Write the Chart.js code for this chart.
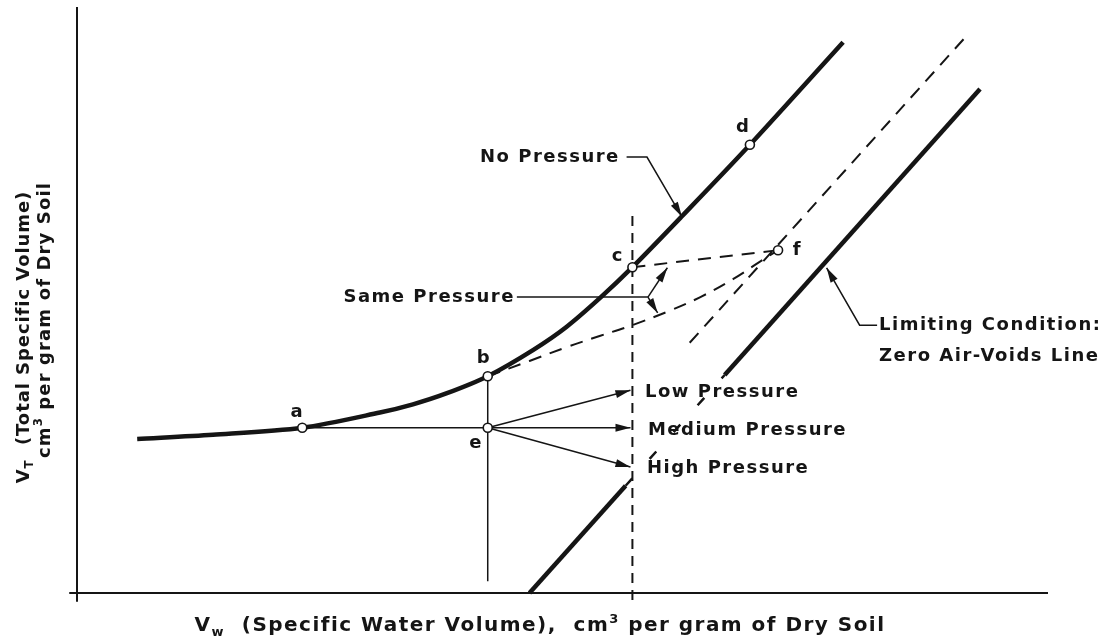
<!DOCTYPE html>
<html><head><meta charset="utf-8">
<script src="https://cdn.jsdelivr.net/npm/chart.js@4.4.1/dist/chart.umd.min.js"></script>
<style>html,body{margin:0;padding:0;background:#fff;}canvas{display:block;}</style>
</head><body>
<canvas id="c" width="1104" height="642"></canvas>
<script>
// ---- data (schematic units, no ticks in the original) ----
const noPressureX = [6.2, 14.0, 23.2, 31.2, 34.6, 38.1, 42.3, 47.0, 50.4, 53.9, 57.2, 62.3, 69.3, 78.9];
const noPressureY = [26.3, 27.0, 28.2, 30.8, 32.2, 34.1, 37.0, 41.5, 45.4, 50.4, 55.6, 64.3, 76.5, 94.0];
const pointNames = ['a', 'b', 'c', 'd', 'e', 'f'];
const pointX = [23.2, 42.3, 57.2, 69.3, 42.3, 72.2];
const pointY = [28.2, 37.0, 55.6, 76.5, 28.2, 58.5];
const zeroAirX = [46.6, 56.5, 66.7, 93.0];
const zeroAirY = [0, 18.3, 37.2, 86.0];
const parallelX = [63.1, 91.3];
const parallelY = [42.7, 94.5];
const bToFX = [42.3, 46.6, 50.5, 53.9, 57.0, 60.8, 64.2, 67.6, 70.3, 72.2];
const bToFY = [37.0, 39.6, 42.0, 43.9, 45.6, 48.0, 50.5, 53.6, 56.5, 58.5];
const cToFX = [57.2, 72.2];
const cToFY = [55.6, 58.5];
const verticalDashX = [57.2, 57.2];
const verticalDashY = [-1.2, 64.5];
const bDropX = [42.3, 42.3];
const bDropY = [37.0, 2.0];
const aToEX = [23.2, 42.3];
const aToEY = [28.2, 28.2];
const pressureNames = ['Low Pressure', 'Medium Pressure', 'High Pressure'];
const pressureEndX = [57.0, 57.0, 57.0];
const pressureEndY = [34.6, 28.2, 21.5];
const noPressLeaderX = [56.6, 58.7, 62.3];
const noPressLeaderY = [74.4, 74.4, 64.2];
const samePressLeaderX = [45.3, 58.8];
const samePressLeaderY = [50.5, 50.5];
const sameArrowEndX = [60.8, 59.8];
const sameArrowEndY = [55.5, 47.8];
const limitLeaderX = [82.4, 80.6, 77.2];
const limitLeaderY = [45.7, 45.7, 55.5];
const xAxisX = [-0.8, 100], xAxisY = [0, 0];
const yAxisX = [0, 0], yAxisY = [-1.5, 100];

const INK = '#151515';
const FONT = '"DejaVu Sans", sans-serif';
const pts = (xs, ys) => xs.map((x, i) => ({x: x, y: ys[i]}));
const line = (xs, ys, extra) => Object.assign({
  data: pts(xs, ys), showLine: true, pointRadius: 0, borderColor: INK,
  borderWidth: 1.5, fill: false, clip: false
}, extra || {});

const datasets = [
  Object.assign(line(pointX, pointY, {showLine: false}), {
    label: 'points', order: -1, pointRadius: 4.5, pointBackgroundColor: '#fff',
    pointBorderColor: INK, pointBorderWidth: 1.6
  }),
  line(xAxisX, xAxisY, {borderWidth: 2}),
  line(yAxisX, yAxisY, {borderWidth: 2}),
  line(noPressureX, noPressureY, {borderWidth: 4.5, tension: 0.3}),
  line(zeroAirX, zeroAirY, {borderWidth: 4.5, segment: {
    borderDash: c => c.p0DataIndex === 1 ? [10, 26] : undefined,
    borderWidth: c => c.p0DataIndex === 1 ? 2.5 : 4.5
  }}),
  line(parallelX, parallelY, {borderWidth: 2, borderDash: [13, 9]}),
  line(bToFX, bToFY, {borderWidth: 2, borderDash: [13, 9], tension: 0.4}),
  line(cToFX, cToFY, {borderWidth: 2, borderDash: [13, 9]}),
  line(verticalDashX, verticalDashY, {borderWidth: 2, borderDash: [10, 7]}),
  line(bDropX, bDropY, {borderWidth: 1.5}),
  line(aToEX, aToEY, {borderWidth: 1.5}),
  line(noPressLeaderX, noPressLeaderY, {borderWidth: 1.5, arrowHead: true}),
  line(samePressLeaderX, samePressLeaderY, {borderWidth: 1.5}),
  line(limitLeaderX, limitLeaderY, {borderWidth: 1.5, arrowHead: true})
];
pressureEndX.forEach((x, i) => {
  datasets.push(line([pointX[4], x], [pointY[4], pressureEndY[i]], {borderWidth: 1.5, arrowHead: true}));
});
sameArrowEndX.forEach((x, i) => {
  const n = samePressLeaderX.length - 1;
  datasets.push(line([samePressLeaderX[n], x], [samePressLeaderY[n], sameArrowEndY[i]], {borderWidth: 1.5, arrowHead: true}));
});

// annotation text anchored in data coordinates
const textLabels = [
  {t: 'No Pressure', x: noPressLeaderX[0] - 0.7, y: noPressLeaderY[0], align: 'right'},
  {t: 'Same Pressure', x: samePressLeaderX[0] - 0.2, y: samePressLeaderY[0], align: 'right'},
  {t: pressureNames[0], x: 58.5, y: 34.3, align: 'left'},
  {t: pressureNames[1], x: 58.8, y: 27.8, align: 'left'},
  {t: pressureNames[2], x: 58.7, y: 21.3, align: 'left'},
  {t: 'Limiting Condition:', x: 82.6, y: 45.7, align: 'left'},
  {t: 'Zero Air-Voids Line', x: 82.6, y: 40.4, align: 'left'}
];
const pointLabelOffsets = [[-0.5, 2.7], [-0.4, 3.1], [-1.5, 1.9], [-0.7, 2.9], [-1.2, -2.6], [2.0, 0]];

function partFont(p, size) { return 'bold ' + (p.sub || p.sup ? size * 0.65 : size) + 'px ' + FONT; }
function richWidth(ctx, parts, size) {
  let w = 0;
  parts.forEach(p => { ctx.font = partFont(p, size); w += ctx.measureText(p.t).width; });
  return w;
}
// draws rich text (sub/superscripts) centred on (x,y), spreading letters to a target width
function drawRich(ctx, parts, x, y, size, targetWidth) {
  try { ctx.letterSpacing = '0px'; } catch (e) {}
  const base = richWidth(ctx, parts, size);
  const n = parts.reduce((s, p) => s + p.t.length, 0);
  const sp = Math.max(0, (targetWidth - base) / n);
  try { ctx.letterSpacing = sp.toFixed(2) + 'px'; } catch (e) {}
  const total = richWidth(ctx, parts, size);
  let cx = x - total / 2;
  ctx.textAlign = 'left';
  parts.forEach(p => {
    ctx.font = partFont(p, size);
    const dy = p.sub ? size * 0.32 : p.sup ? -size * 0.33 : 0;
    ctx.fillText(p.t, cx, y + dy);
    cx += ctx.measureText(p.t).width;
  });
}

const decor = {
  id: 'decor',
  beforeDraw(chart) {
    const c = chart.ctx; c.save(); c.fillStyle = '#fff'; c.fillRect(0, 0, chart.width, chart.height); c.restore();
  },
  afterDatasetsDraw(chart) {
    const ctx = chart.ctx;
    ctx.save();
    ctx.fillStyle = INK;
    chart.data.datasets.forEach((ds, i) => {
      if (!ds.arrowHead) return;
      const els = chart.getDatasetMeta(i).data;
      const p1 = els[els.length - 1], p0 = els[els.length - 2];
      const ang = Math.atan2(p1.y - p0.y, p1.x - p0.x);
      const L = 15, W = 4;
      ctx.beginPath();
      ctx.moveTo(p1.x, p1.y);
      ctx.lineTo(p1.x - L * Math.cos(ang) + W * Math.sin(ang), p1.y - L * Math.sin(ang) - W * Math.cos(ang));
      ctx.lineTo(p1.x - L * Math.cos(ang) - W * Math.sin(ang), p1.y - L * Math.sin(ang) + W * Math.cos(ang));
      ctx.closePath();
      ctx.fill();
    });
    const xs = chart.scales.x, ys = chart.scales.y;
    ctx.textBaseline = 'middle';
    try { ctx.letterSpacing = '1.5px'; } catch (e) {}
    const size = 18;
    ctx.font = 'bold ' + size + 'px ' + FONT;
    textLabels.forEach(l => {
      ctx.textAlign = l.align;
      ctx.fillText(l.t, xs.getPixelForValue(l.x), ys.getPixelForValue(l.y));
    });
    ctx.textAlign = 'center';
    pointNames.forEach((n, i) => {
      ctx.fillText(n, xs.getPixelForValue(pointX[i] + pointLabelOffsets[i][0]), ys.getPixelForValue(pointY[i] + pointLabelOffsets[i][1]));
    });
    // axis titles
    const xTitle = [{t: 'V'}, {t: 'w', sub: true}, {t: '  (Specific Water Volume),  cm'}, {t: '3', sup: true}, {t: ' per gram of Dry Soil'}];
    drawRich(ctx, xTitle, 540, chart.height - 16, 20, 690);
    const yTitle1 = [{t: 'V'}, {t: 'T', sub: true}, {t: '  (Total Specific Volume)'}];
    const yTitle2 = [{t: 'cm'}, {t: '3', sup: true}, {t: ' per gram of Dry Soil'}];
    ctx.save(); ctx.translate(24, 337); ctx.rotate(-Math.PI / 2); drawRich(ctx, yTitle1, 0, 0, 18, 292); ctx.restore();
    ctx.save(); ctx.translate(45, 320); ctx.rotate(-Math.PI / 2); drawRich(ctx, yTitle2, 0, 0, 18, 276); ctx.restore();
    ctx.restore();
  }
};

new Chart(document.getElementById('c'), {
  type: 'scatter',
  data: {datasets: datasets},
  options: {
    responsive: false, animation: false, devicePixelRatio: 1,
    layout: {padding: {left: 77, right: 56, top: 7, bottom: 49}},
    plugins: {legend: {display: false}, tooltip: {enabled: false}},
    scales: {
      x: {type: 'linear', min: 0, max: 100, display: false},
      y: {type: 'linear', min: 0, max: 100, display: false}
    }
  },
  plugins: [decor]
});
</script>
</body></html>
